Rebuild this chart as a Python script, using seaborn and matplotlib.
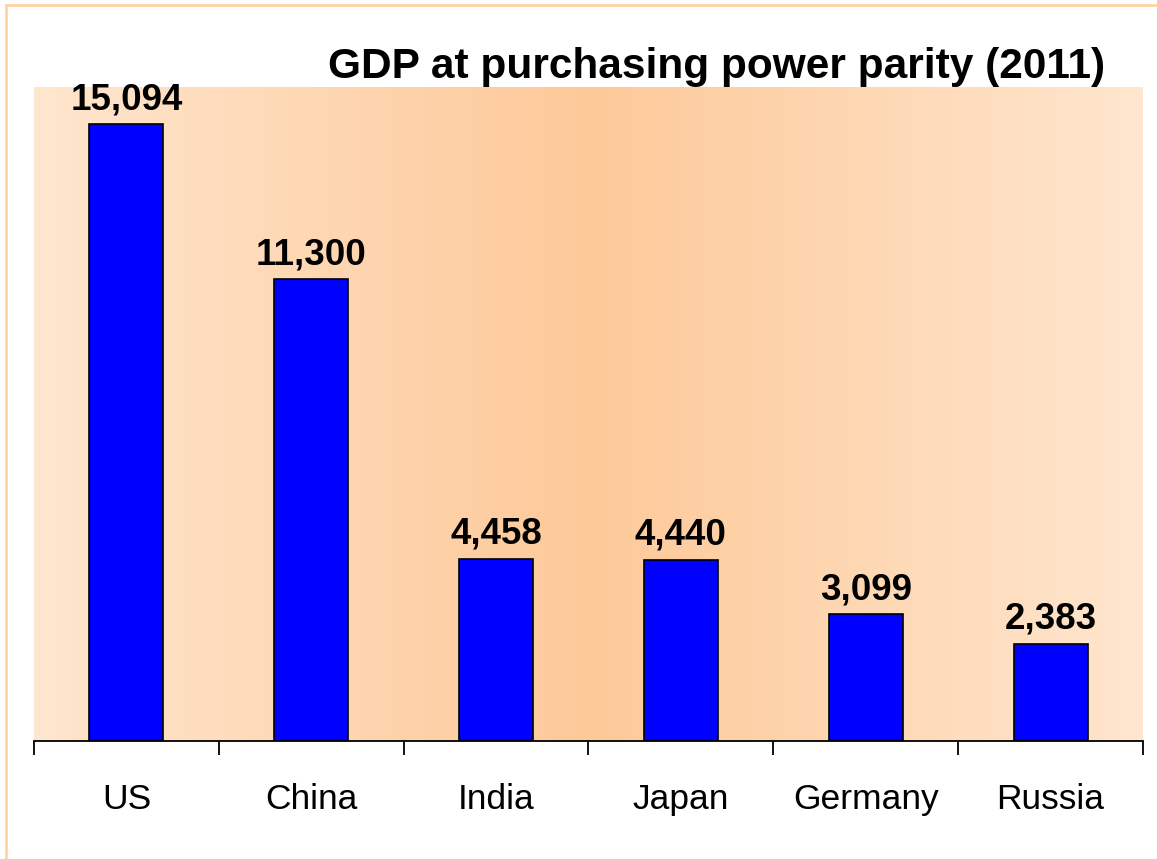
import numpy as np
import pandas as pd
import matplotlib
matplotlib.use("Agg")
import matplotlib.pyplot as plt
from matplotlib.colors import LinearSegmentedColormap
from matplotlib.patches import Rectangle
import seaborn as sns

# data
countries = ["US", "China", "India", "Japan", "Germany", "Russia"]
gdp_ppp = [15094, 11300, 4458, 4440, 3099, 2383]

df = pd.DataFrame({"country": countries, "gdp": gdp_ppp})

sns.set_theme(style="white")
plt.rcParams["font.family"] = ["Liberation Sans", "DejaVu Sans"]
plt.rcParams["text.color"] = "black"
plt.rcParams["xtick.color"] = "black"

fig = plt.figure(figsize=(11.57, 8.59), dpi=100)
ax = fig.add_axes([34 / 1157, 1 - 741 / 859, (1143 - 34) / 1157, (741 - 87) / 859])

# orange horizontal gradient behind the bars
cmap = LinearSegmentedColormap.from_list("peach", ["#FFE6CE", "#FDC999", "#FFE6CE"])
grad = np.linspace(0, 1, 256).reshape(1, -1)
ax.imshow(grad, cmap=cmap, aspect="auto", extent=[0, 1, 0, 1],
          transform=ax.transAxes, zorder=0)

sns.barplot(data=df, x="country", y="gdp", color="#0000FF", saturation=1,
            edgecolor="black", linewidth=1.2, width=0.4, ax=ax, zorder=2)

ax.set_xlim(-0.5, 5.5)
ax.set_ylim(0, 16000)
ax.set_xlabel("")
ax.set_ylabel("")
ax.set_yticks([])

ax.bar_label(ax.containers[0], labels=[f"{v:,}" for v in gdp_ppp],
             padding=5, fontsize=26.5, fontweight="bold", color="black")

for s in ["top", "left", "right"]:
    ax.spines[s].set_visible(False)
ax.spines["bottom"].set_color("black")
ax.spines["bottom"].set_linewidth(1.3)
ax.spines["bottom"].set_zorder(3)

ax.set_xticks(np.arange(-0.5, 6.0, 1.0), minor=True)
ax.tick_params(axis="x", which="minor", bottom=True, length=10, width=1.3,
               color="black", direction="out")
ax.tick_params(axis="x", which="major", bottom=False, length=0, pad=30,
               labelsize=25.5, labelcolor="black")

fig.text(1105 / 1157, 1 - 78 / 859, "GDP at purchasing power parity (2011)",
         ha="right", va="baseline", fontsize=30.5, fontweight="bold", color="black")

# thin orange frame around the slide
fig.patches.append(Rectangle((6 / 1157, -0.05), 1.2, 1 - 5 / 859 + 0.05,
                             transform=fig.transFigure, fill=False,
                             edgecolor="#FFD3A4", linewidth=2))

fig.savefig("out.png", dpi=100, facecolor="white")
